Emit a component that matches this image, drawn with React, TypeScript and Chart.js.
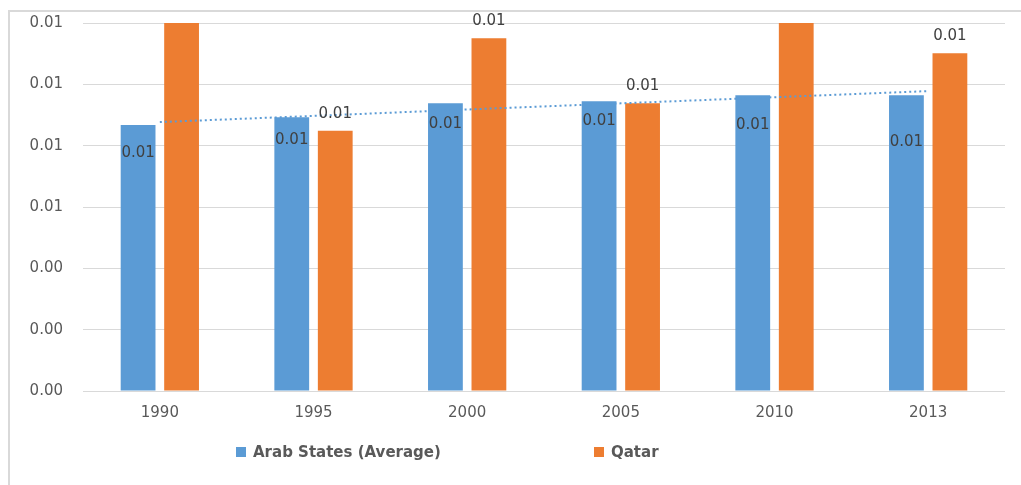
import React, { useEffect, useRef } from "react";
import { Chart, registerables } from "chart.js";

Chart.register(...registerables);

// ---- data ----
const categories = ["1990", "1995", "2000", "2005", "2010", "2013"];
const seriesNames = ["Arab States (Average)", "Qatar"];
const arabValues = [0.00867, 0.00893, 0.00938, 0.00945, 0.00964, 0.00964];
const qatarValues = [0.0125, 0.00849, 0.0115, 0.00938, 0.0125, 0.01101];
const arabTrend = [0.00877, 0.00897, 0.00918, 0.00938, 0.00958, 0.00978];
const yMin = 0;
const yMax = 0.012;
const yStep = 0.002;

// ---- style ----
const BLUE = "#5b9bd5";
const ORANGE = "#ed7d31";
const GRID = "#d9d9d9";
const TEXT = "#595959";
const LABEL = "#404040";
const FONT = '"DejaVu Sans"';
const arabLabelNudge = [28, 23, 21, 20, 30, 47];
const qatarLabelNudge = 17;

const decorPlugin = {
  id: "decor",
  beforeDraw(chart: any) {
    const ctx = chart.ctx;
    ctx.save();
    ctx.fillStyle = "#ffffff";
    ctx.fillRect(0, 0, chart.width, chart.height);
    ctx.fillStyle = GRID;
    ctx.fillRect(8, 10, chart.width - 8, 2);
    ctx.fillRect(8, 10, 2, chart.height - 10);
    ctx.restore();
  },
  afterDatasetsDraw(chart: any) {
    const ctx = chart.ctx;
    const yScale = chart.scales.y;
    ctx.save();
    ctx.font = `15px ${FONT}`;
    ctx.fillStyle = LABEL;
    ctx.textAlign = "center";
    ctx.textBaseline = "middle";
    chart.data.datasets.forEach((ds: any, di: number) => {
      if (ds.type === "line") return;
      const meta = chart.getDatasetMeta(di);
      meta.data.forEach((bar: any, i: number) => {
        const v = ds.data[i] as number;
        if (v > yScale.max) return;
        const y = di === 0 ? bar.y + arabLabelNudge[i] : bar.y - qatarLabelNudge;
        ctx.fillText(v.toFixed(2), bar.x, y);
      });
    });
    ctx.restore();
  },
  afterDraw(chart: any) {
    const ctx = chart.ctx;
    ctx.save();
    ctx.font = `bold 15px ${FONT}`;
    ctx.textBaseline = "middle";
    ctx.textAlign = "left";
    const items = [
      { x: 236, color: BLUE, text: seriesNames[0] },
      { x: 594, color: ORANGE, text: seriesNames[1] },
    ];
    const ly = 452;
    items.forEach((it) => {
      ctx.fillStyle = it.color;
      ctx.fillRect(it.x, ly - 5, 10, 10);
      ctx.fillStyle = TEXT;
      ctx.fillText(it.text, it.x + 17, ly + 1);
    });
    ctx.restore();
  },
};

export default function App() {
  const ref = useRef<HTMLCanvasElement | null>(null);
  useEffect(() => {
    if (!ref.current) return;
    const chart = new Chart(ref.current, {
      type: "bar",
      data: {
        labels: categories,
        datasets: [
          {
            type: "bar",
            label: seriesNames[0],
            data: arabValues,
            backgroundColor: BLUE,
            categoryPercentage: 0.566,
            barPercentage: 0.8,
            order: 1,
          },
          {
            type: "bar",
            label: seriesNames[1],
            data: qatarValues,
            backgroundColor: ORANGE,
            categoryPercentage: 0.566,
            barPercentage: 0.8,
            order: 1,
          },
          {
            type: "line",
            label: "Trend",
            data: arabTrend,
            borderColor: BLUE,
            borderWidth: 2,
            borderDash: [2, 3],
            pointRadius: 0,
            fill: false,
            order: 0,
          } as any,
        ],
      },
      options: {
        responsive: false,
        animation: false,
        layout: { padding: { left: 0, right: 16, top: 23, bottom: 0 } },
        plugins: {
          legend: { display: false },
          tooltip: { enabled: false },
        },
        scales: {
          x: {
            offset: true,
            grid: { display: false, drawTicks: false },
            border: { display: false },
            ticks: {
              color: TEXT,
              font: { family: FONT, size: 15 },
              padding: 13,
            },
            afterFit(scale: any) {
              scale.height = 94;
              scale.paddingLeft = 0;
              scale.paddingRight = 0;
            },
          },
          y: {
            min: yMin,
            max: yMax,
            grid: { color: GRID, lineWidth: 1, drawTicks: false },
            border: { display: false },
            ticks: {
              stepSize: yStep,
              color: TEXT,
              font: { family: FONT, size: 15 },
              padding: 20,
              callback: (v: any) => Number(v).toFixed(2),
            },
            afterFit(scale: any) {
              scale.width = 83;
              scale.paddingTop = 0;
              scale.paddingBottom = 0;
            },
          },
        },
      },
      plugins: [decorPlugin],
    });
    return () => chart.destroy();
  }, []);
  return (
    <div style={{ position: "fixed", left: 0, top: 0, width: 1021, height: 485, overflow: "hidden" }}>
      <canvas ref={ref} width={1021} height={485} style={{ display: "block" }} />
    </div>
  );
}
